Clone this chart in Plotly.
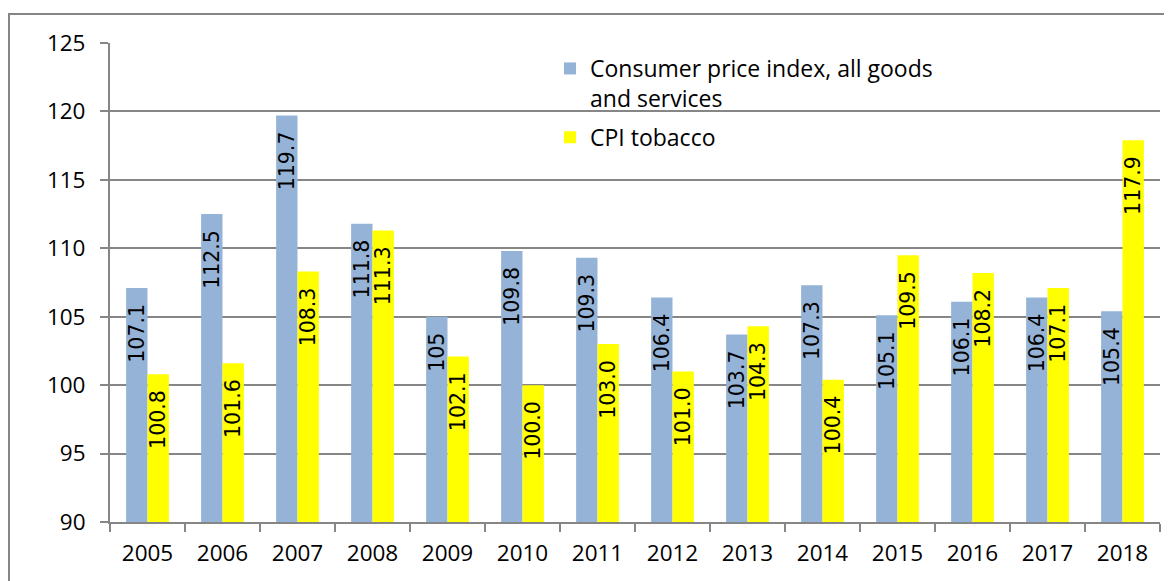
import plotly.graph_objects as go

years = ["2005", "2006", "2007", "2008", "2009", "2010", "2011", "2012", "2013", "2014", "2015", "2016", "2017", "2018"]
cpi_all = [107.1, 112.5, 119.7, 111.8, 105, 109.8, 109.3, 106.4, 103.7, 107.3, 105.1, 106.1, 106.4, 105.4]
cpi_all_labels = ["107.1", "112.5", "119.7", "111.8", "105", "109.8", "109.3", "106.4", "103.7", "107.3", "105.1", "106.1", "106.4", "105.4"]
cpi_tob = [100.8, 101.6, 108.3, 111.3, 102.1, 100.0, 103.0, 101.0, 104.3, 100.4, 109.5, 108.2, 107.1, 117.9]
cpi_tob_labels = ["100.8", "101.6", "108.3", "111.3", "102.1", "100.0", "103.0", "101.0", "104.3", "100.4", "109.5", "108.2", "107.1", "117.9"]

FONT = "Open Sans"
LABFONT = "DejaVu Sans"
FS = 22.5
LFS = 20.5
PAD = "\u00a0\u00a0"

fig = go.Figure()
fig.add_trace(go.Bar(
    x=years, y=cpi_all, name="Consumer price index, all goods<br>and services",
    legendgroup="g1",
    marker=dict(color="#95B3D7", line=dict(width=0)),
    text=[t + PAD for t in cpi_all_labels], textposition="inside", textangle=-90, insidetextanchor="end",
    textfont=dict(family=LABFONT, size=LFS, color="black"), constraintext="none",
    cliponaxis=False,
))
fig.add_trace(go.Bar(
    x=years, y=cpi_tob, name="CPI tobacco",
    legendgroup="g2",
    marker=dict(color="#FFFF00", line=dict(width=0)),
    text=[t + PAD for t in cpi_tob_labels], textposition="inside", textangle=-90, insidetextanchor="end",
    textfont=dict(family=LABFONT, size=LFS, color="black"), constraintext="none",
    cliponaxis=False,
))

# screen coords are offset by the 8px page margin
OFF = 8
W, H = 1172, 581
L = 110 - OFF
T = 43 - OFF
R = W - (1160 - OFF)
B = H - (522 - OFF)
pw, ph = W - L - R, H - T - B

def px(xs):
    return (xs - OFF - L) / pw

def py(ys):
    return (H - B - (ys - OFF)) / ph

fig.update_layout(
    width=W, height=H,
    margin=dict(l=L, r=R, t=T, b=B),
    paper_bgcolor="white", plot_bgcolor="white",
    barmode="group", bargap=0.43, bargroupgap=0,
    font=dict(family=FONT, size=FS, color="black"),
    uniformtext=dict(minsize=LFS, mode="show"),
    showlegend=True,
    legend=dict(x=px(550), y=py(47), xanchor="left", yanchor="top",
                bgcolor="rgba(0,0,0,0)", font=dict(family=FONT, size=23),
                tracegroupgap=6, itemwidth=30, valign="top"),
    xaxis=dict(showline=True, linecolor="#868686", linewidth=2,
               ticks="outside", ticklen=8, tickcolor="#868686", tickwidth=2,
               tickson="boundaries", showgrid=False, tickfont=dict(size=FS),
               ticklabelstandoff=10),
    yaxis=dict(range=[90, 125], dtick=5, showline=True, linecolor="#868686", linewidth=2,
               ticks="outside", ticklen=8, tickcolor="#868686", tickwidth=2,
               showgrid=True, gridcolor="#868686", gridwidth=2, zeroline=False,
               tickfont=dict(size=FS), ticklabelstandoff=10),
    shapes=[dict(type="rect", xref="paper", yref="paper",
                 x0=px(9), x1=px(W + 30),
                 y0=py(H + 30), y1=py(14),
                 line=dict(color="#868686", width=2), fillcolor="rgba(0,0,0,0)", layer="below")],
)
fig.write_html("out.html")
